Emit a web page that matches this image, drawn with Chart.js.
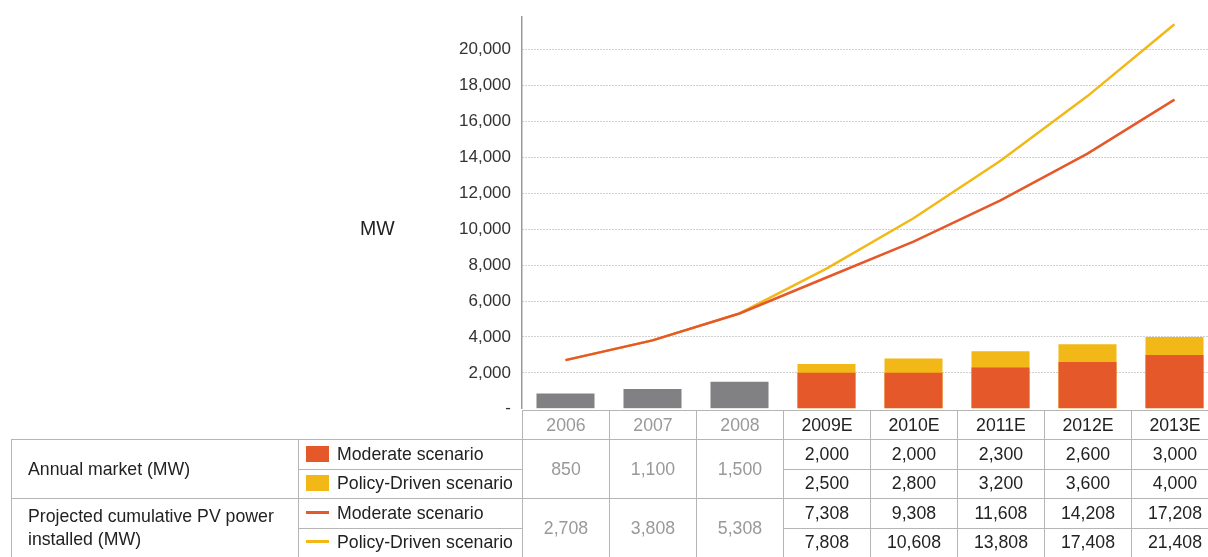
<!DOCTYPE html>
<html>
<head>
<meta charset="utf-8">
<script src="https://cdn.jsdelivr.net/npm/chart.js@4.4.0/dist/chart.umd.min.js"></script>
<style>
    body { margin: 0; background: #fff; font-family: "Liberation Sans", Arial, sans-serif; }
    #wrap { position: relative; width: 1208px; height: 557px; overflow: hidden; }
    #chartBox { position: absolute; left: 0; top: -4px; width: 1218px; height: 434px; }
    #mw { position: absolute; left: 360px; top: 217px; font-size: 19.5px; color: #222; }
    #dataTable { position: absolute; left: 11px; top: 410px; width: 1207px; border-collapse: collapse; table-layout: fixed; font-size: 17.7px; color: #222; }
    #dataTable td { border: 1.5px solid #b5b5b5; padding: 0; height: 28.5px; text-align: center; white-space: nowrap; }
    #dataTable tr.head td { height: 28px; }
    #dataTable td.blank { border: none; }
    #dataTable td.lab { text-align: left; padding-left: 16px; white-space: normal; line-height: 23px; }
    #dataTable td.leg { text-align: left; padding-left: 7px; }
    #dataTable td.hist { color: #999; }
    .swatch { display: inline-block; width: 23px; height: 16px; margin-right: 8px; vertical-align: -2px; }
    .lineKey { display: inline-block; width: 23px; height: 3px; margin-right: 8px; vertical-align: 5px; }
</style>
</head>
<body>
<div id="wrap">
    <div id="chartBox"><canvas id="pvChart"></canvas></div>
    <div id="mw">MW</div>
    <table id="dataTable"></table>
</div>
<script>
const categories = ['2006', '2007', '2008', '2009E', '2010E', '2011E', '2012E', '2013E'];
const historicAnnual = [850, 1100, 1500, null, null, null, null, null];
const moderateAnnual = [null, null, null, 2000, 2000, 2300, 2600, 3000];
const policyAnnual = [null, null, null, 2500, 2800, 3200, 3600, 4000];
const moderateCumulative = [2708, 3808, 5308, 7308, 9308, 11608, 14208, 17208];
const policyCumulative = [2708, 3808, 5308, 7808, 10608, 13808, 17408, 21408];
const yTicks = [0, 2000, 4000, 6000, 8000, 10000, 12000, 14000, 16000, 18000, 20000];
const historicCount = 3;
const yTop = 21800;

const grey = '#818184';
const orange = '#E5582A';
const yellow = '#F2B817';

function fmt(v) {
    return v.toLocaleString('en-US');
}

// ---- chart ----
const ctx = document.getElementById('pvChart').getContext('2d');
new Chart(ctx, {
    type: 'bar',
    data: {
        labels: categories,
        datasets: [
            {
                type: 'line',
                label: 'Policy-Driven cumulative',
                data: policyCumulative,
                borderColor: yellow,
                borderWidth: 2.5,
                pointRadius: 0,
                tension: 0,
                order: 1
            },
            {
                type: 'line',
                label: 'Moderate cumulative',
                data: moderateCumulative,
                borderColor: orange,
                borderWidth: 2.5,
                pointRadius: 0,
                tension: 0,
                order: 0
            },
            {
                label: 'Historic',
                data: historicAnnual,
                backgroundColor: grey,
                grouped: false,
                order: 2
            },
            {
                label: 'Moderate annual',
                data: moderateAnnual,
                backgroundColor: orange,
                grouped: false,
                order: 2
            },
            {
                label: 'Policy-Driven annual',
                data: policyAnnual,
                backgroundColor: yellow,
                grouped: false,
                order: 3
            }
        ]
    },
    options: {
        responsive: true,
        maintainAspectRatio: false,
        animation: false,
        layout: { padding: { top: 11, right: 0, bottom: 0, left: 0 } },
        datasets: {
            bar: { barPercentage: 0.667, categoryPercentage: 1 }
        },
        plugins: {
            legend: { display: false },
            tooltip: { enabled: false }
        },
        scales: {
            x: {
                display: false
            },
            y: {
                min: 0,
                max: yTop,
                afterFit: function (scale) { scale.width = 522; },
                afterBuildTicks: function (scale) {
                    scale.ticks = yTicks.map(v => ({ value: v }));
                },
                ticks: {
                    padding: 11,
                    color: '#333',
                    font: { family: '"Liberation Sans", Arial, sans-serif', size: 17 },
                    callback: function (value) {
                        return value === 0 ? '-' : fmt(value);
                    }
                },
                grid: {
                    drawTicks: false,
                    lineWidth: 1,
                    color: function (c) {
                        return (c.tick && c.tick.value === 0) ? 'rgba(0,0,0,0)' : '#a0a0a0';
                    }
                },
                border: { display: true, color: '#9a9a9a', width: 1.5, dash: [1, 2] }
            }
        }
    }
});

// ---- table under the chart ----
const table = document.getElementById('dataTable');
let html = '<colgroup><col style="width:287px"><col style="width:224px">';
categories.forEach(() => { html += '<col style="width:87px">'; });
html += '</colgroup>';

// year header row
html += '<tr class="head"><td class="blank" colspan="2"></td>';
categories.forEach((c, i) => {
    html += '<td' + (i < historicCount ? ' class="hist"' : '') + '>' + c + '</td>';
});
html += '</tr>';

function projected(values) {
    let s = '';
    for (let i = historicCount; i < values.length; i++) s += '<td>' + fmt(values[i]) + '</td>';
    return s;
}

function historic(values) {
    let s = '';
    for (let i = 0; i < historicCount; i++) s += '<td class="hist" rowspan="2">' + fmt(values[i]) + '</td>';
    return s;
}

html += '<tr><td class="lab" rowspan="2">Annual market (MW)</td>' +
    '<td class="leg"><span class="swatch" style="background:' + orange + '"></span>Moderate scenario</td>' +
    historic(historicAnnual) + projected(moderateAnnual) + '</tr>';
html += '<tr><td class="leg"><span class="swatch" style="background:' + yellow + '"></span>Policy-Driven scenario</td>' +
    projected(policyAnnual) + '</tr>';
html += '<tr><td class="lab" rowspan="2">Projected cumulative PV power installed (MW)</td>' +
    '<td class="leg"><span class="lineKey" style="background:' + orange + '"></span>Moderate scenario</td>' +
    historic(moderateCumulative) + projected(moderateCumulative) + '</tr>';
html += '<tr><td class="leg"><span class="lineKey" style="background:' + yellow + '"></span>Policy-Driven scenario</td>' +
    projected(policyCumulative) + '</tr>';

table.innerHTML = html;
</script>
</body>
</html>
